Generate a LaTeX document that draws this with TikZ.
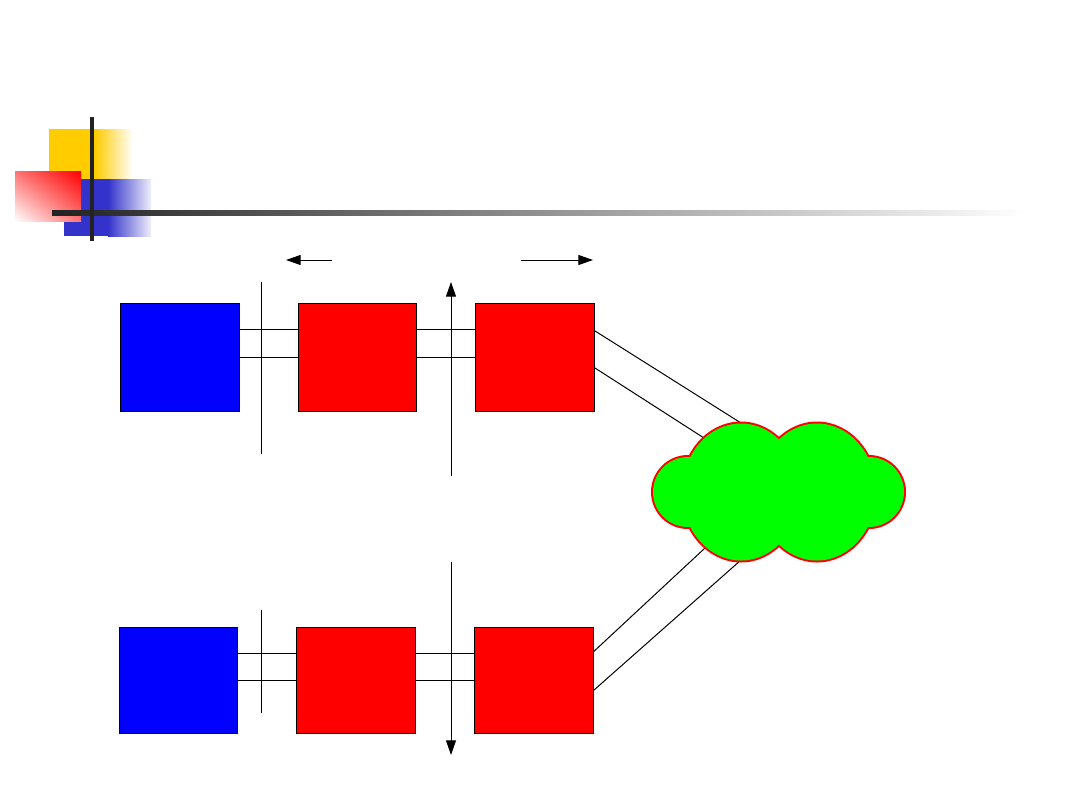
\documentclass[tikz,border=0pt]{standalone}
\usetikzlibrary{arrows.meta,calc,shadings}
\definecolor{ink}{RGB}{0,0,0}
\definecolor{boxB}{RGB}{0,0,255}
\definecolor{boxR}{RGB}{255,0,0}
\definecolor{netG}{RGB}{0,255,0}
\definecolor{decY}{RGB}{255,204,0}
\definecolor{decB}{RGB}{51,51,204}
\definecolor{decK}{RGB}{34,34,34}

\begin{document}
\begin{tikzpicture}[x=0.75pt, y=-0.75pt,
    blk/.style={draw=ink, line width=0.75pt, inner sep=0pt, minimum width=89pt, minimum height=81pt},
    host/.style={blk, fill=boxB},
    rtr/.style={blk, fill=boxR},
    wire/.style={draw=ink, line width=0.75pt},
    dir/.style={-{Triangle[length=11pt, width=7.5pt]}, line width=0.75pt, color=ink}]

  \useasboundingbox (0,0) rectangle (1080,810);

  % ---- title decoration ------------------------------------------------------
  \fill[decY] (49,129) rectangle (95,180);
  \shade[left color=decY, right color=white] (95,129) rectangle (133,180);
  \fill[decB] (64,179) rectangle (108,236);
  \shade[left color=decB, right color=decB!8] (108,179) rectangle (151,236);
  \shade[upper right=boxR, lower left=white, upper left=boxR!55, lower right=boxR!55]
    (15,171) rectangle (81,221);
  \shade[left color=decK, right color=white] (52,210) rectangle (1025,215);
  \fill[decK] (90,117) rectangle (94,241);

  % ---- upper path ------------------------------------------------------------
  \node[host] (hA) at (180,357) {};
  \node[rtr]  (rA1) at (357.5,357) {};
  \node[rtr]  (rA2) at (535,357) {};

  % ---- lower path ------------------------------------------------------------
  \node[host, minimum height=80pt] (hB) at (178.5,680.5) {};
  \node[rtr, minimum height=80pt]  (rB1) at (356,680.5) {};
  \node[rtr, minimum height=80pt]  (rB2) at (534,680.5) {};

  % links between the boxes
  \foreach \a/\b in {hA/rA1, rA1/rA2, hB/rB1, rB1/rB2} {
    \draw[wire] ($(\a.north east)!0.25!(\a.south east)$) -- ($(\b.north west)!0.25!(\b.south west)$);
    \draw[wire] (\a.east) -- (\b.west);
  }

  % ---- links into the cloud --------------------------------------------------
  \coordinate (inA1) at (741,423);
  \coordinate (inA2) at (704,438);
  \coordinate (inB1) at (705,548);
  \coordinate (inB2) at (741,560);
  \draw[wire] ($(rA2.north east)!0.26!(rA2.south east)$) -- (inA1);
  \draw[wire] ($(rA2.north east)!0.6!(rA2.south east)$) -- (inA2);
  \draw[wire] ($(rB2.north east)!0.23!(rB2.south east)$) -- (inB1);
  \draw[wire] ($(rB2.north east)!0.59!(rB2.south east)$) -- (inB2);

  % cloud: thick red outline first, green fill on top keeps the outer half
  \def\cloudpath{(688,492) circle[radius=35] (869,492) circle[radius=35]
    (741,492) ellipse[x radius=59, y radius=68.5] (817,492) ellipse[x radius=59, y radius=68.5]}
  \draw[boxR, line width=3pt] \cloudpath;
  \fill[netG] \cloudpath;

  % ---- separators and direction arrows ---------------------------------------
  \coordinate (sepA0) at (261,282);  \coordinate (sepA1) at (261,454);
  \coordinate (sepB0) at (261,610);  \coordinate (sepB1) at (261,713);
  \draw[wire] (sepA0) -- (sepA1);
  \draw[wire] (sepB0) -- (sepB1);

  \coordinate (upA0) at (451,476);  \coordinate (upA1) at (451,282);
  \coordinate (dnB0) at (451,562);  \coordinate (dnB1) at (451,755);
  \draw[dir] (upA0) -- (upA1);
  \draw[dir] (dnB0) -- (dnB1);

  \coordinate (lftA0) at (332,260);  \coordinate (lftA1) at (286,260);
  \coordinate (rgtA0) at (521,260);  \coordinate (rgtA1) at (593,260);
  \draw[dir] (lftA0) -- (lftA1);
  \draw[dir] (rgtA0) -- (rgtA1);
\end{tikzpicture}
\end{document}
